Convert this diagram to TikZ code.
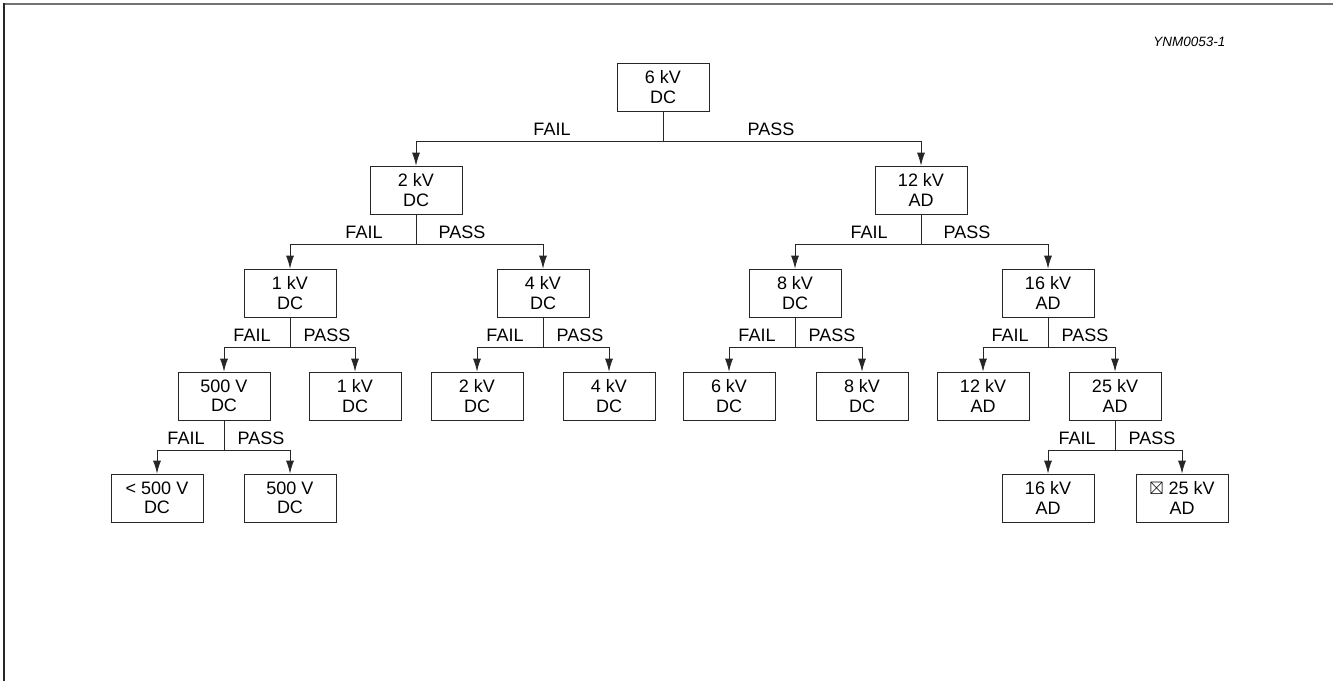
\documentclass[tikz,border=0pt]{standalone}
\usepackage{amssymb}
\usepackage{fontspec}
\setmainfont{Liberation Sans}
\usetikzlibrary{arrows.meta}

\begin{document}
\begin{tikzpicture}[
    x=1pt, y=-1pt,
    every text node part/.style={align=center},
    font=\fontsize{18}{19.5}\selectfont,
    level/.style={
      % The shape:
      rectangle,
      % The size:
      minimum width=92pt,
      minimum height=48pt,
      inner sep=0pt,
      % The border:
      line width=0.8pt,
      draw=black!85,
    },
    verdict/.style={inner sep=0pt, anchor=base},
    branch/.style={line width=0.8pt, draw=black!85},
    fall/.style={branch, -{Latex[length=13pt, width=8pt]}},
  ]

    % page frame
    \useasboundingbox (0,0) rectangle (1333,681);
    \draw[line width=2pt, black!55] (1333,4) -- (4,4);
    \draw[line width=2pt, black!85] (4,3) -- (4,681);

    \node[anchor=east, font=\fontsize{13.5}{15}\selectfont\itshape] (tag) at (1229,42) {YNM0053-1};

    % level 0 and 1
    \node[level] (root) at (663,87) {6 kV \\ DC};
    \node[level] (f) at (416,190) {2 kV \\ DC};
    \node[level] (p) at (921,190) {12 kV \\ AD};

    % level 2
    \node[level] (ff) at (290,293) {1 kV \\ DC};
    \node[level] (fp) at (543,293) {4 kV \\ DC};
    \node[level] (pf) at (795,293) {8 kV \\ DC};
    \node[level] (pp) at (1048,293) {16 kV \\ AD};

    % level 3
    \node[level] (fff) at (224,396) {500 V \\ DC};
    \node[level] (ffp) at (355,396) {1 kV \\ DC};
    \node[level] (fpf) at (477,396) {2 kV \\ DC};
    \node[level] (fpp) at (609,396) {4 kV \\ DC};
    \node[level] (pff) at (729,396) {6 kV \\ DC};
    \node[level] (pfp) at (862,396) {8 kV \\ DC};
    \node[level] (ppf) at (983,396) {12 kV \\ AD};
    \node[level] (ppp) at (1115,396) {25 kV \\ AD};

    % level 4
    \node[level] (ffff) at (157,498) {< 500 V \\ DC};
    \node[level] (fffp) at (290,498) {500 V \\ DC};
    \node[level] (pppf) at (1048,498) {16 kV \\ AD};
    \node[level] (pppp) at (1182,498) {$\boxtimes$ 25 kV \\ AD};

    % FAIL to the left, PASS to the right
    \foreach \up/\lo/\hi/\fd/\pd in {root/f/p/111/108, f/ff/fp/52/46, p/pf/pp/52/46,
        ff/fff/ffp/38/37, fp/fpf/fpp/38/37, pf/pff/pfp/38/37, pp/ppf/ppp/38/37,
        fff/ffff/fffp/38/37, ppp/pppf/pppp/38/37} {
      \draw[branch] (\up.south) -- ++(0,30) coordinate (\up-split);
      \draw[fall] (\up-split) -| (\lo.north);
      \draw[fall] (\up-split) -| (\hi.north);
      \node[verdict] (\up-fail) at ([shift={(-\fd,-6)}]\up-split) {FAIL};
      \node[verdict] (\up-pass) at ([shift={(\pd,-6)}]\up-split) {PASS};
    }
  \end{tikzpicture}
\end{document}
